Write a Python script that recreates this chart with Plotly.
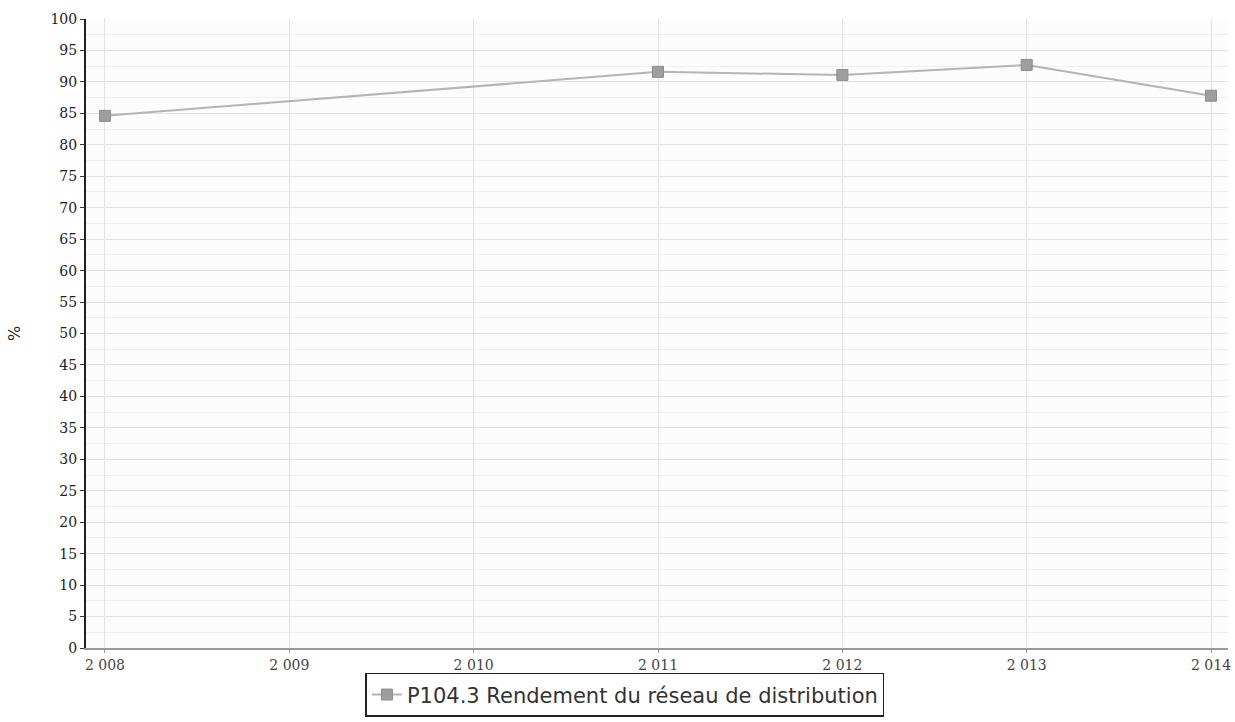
import plotly.graph_objects as go

years = [2008, 2011, 2012, 2013, 2014]
rendement = [84.6, 91.6, 91.1, 92.7, 87.8]
tick_years = [2008, 2009, 2010, 2011, 2012, 2013, 2014]
tick_labels = ["2 008", "2 009", "2 010", "2 011", "2 012", "2 013", "2 014"]
series_name = "P104.3 Rendement du réseau de distribution"

fig = go.Figure()
fig.add_trace(go.Scatter(
    x=years, y=rendement, mode="lines+markers", name=series_name,
    line=dict(color="#b4b4b4", width=2),
    marker=dict(symbol="square", size=11, color="#9e9e9e",
                line=dict(color="#8c8c8c", width=1)),
))

fig.update_layout(
    width=1235, height=722,
    margin=dict(l=86, r=7, t=19, b=74, autoexpand=False),
    paper_bgcolor="white", plot_bgcolor="#fcfcfc",
    font=dict(family="DejaVu Sans", color="#333333"),
    showlegend=True,
    legend=dict(
        orientation="h", xref="container", yref="container",
        x=0.506, xanchor="center", y=0.068, yanchor="top",
        bordercolor="#222222", borderwidth=1.5, bgcolor="white",
        font=dict(size=21, family="DejaVu Sans", color="#333333"),
        itemwidth=30, tracegroupgap=0,
    ),
)

fig.update_xaxes(
    range=[2007.897, 2014.092],
    tickmode="array", tickvals=tick_years, ticktext=tick_labels,
    tickfont=dict(size=14, family="DejaVu Serif", color="#444444"),
    showgrid=True, gridcolor="#e2e2e2", gridwidth=1,
    showline=True, linecolor="#9a9a9a", linewidth=2,
    ticks="outside", ticklen=3, tickcolor="#999999",
    zeroline=False,
)
fig.update_yaxes(
    range=[0, 100], dtick=5,
    tickfont=dict(size=14, family="DejaVu Serif", color="#222222"),
    showgrid=True, gridcolor="#e2e2e2", gridwidth=1,
    minor=dict(dtick=2.5, showgrid=True, gridcolor="#f0f0f0"),
    showline=True, linecolor="#222222", linewidth=2,
    ticks="outside", ticklen=4, tickcolor="#333333",
    zeroline=False,
    title=dict(text="%", font=dict(size=16, color="#222222"), standoff=26),
)

fig.write_html("out.html")
